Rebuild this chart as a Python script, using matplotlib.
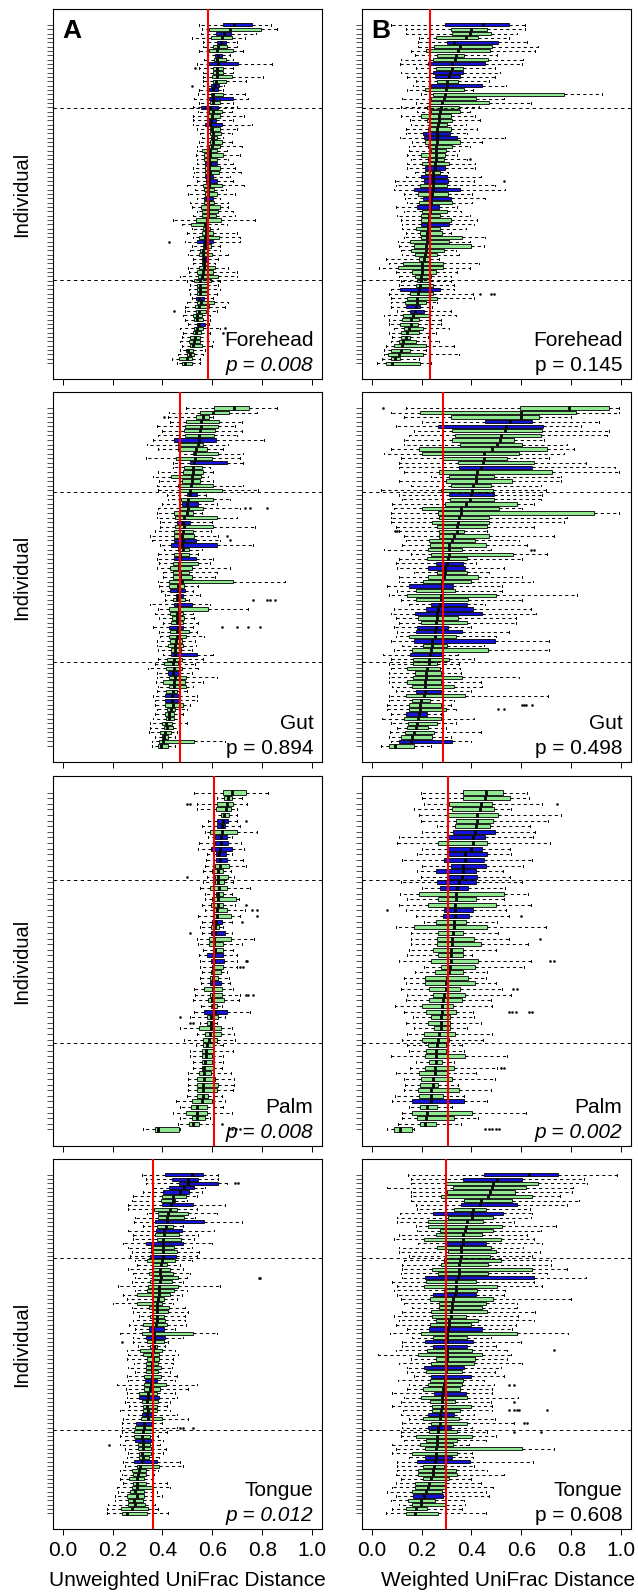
import matplotlib
matplotlib.use("Agg")
import matplotlib.pyplot as plt
import numpy as np

plt.rcParams['font.family'] = ['Liberation Sans', 'DejaVu Sans']

# ---------------- data (distances x 100), rows listed top -> bottom ----------------
sites = ["Forehead", "Gut", "Palm", "Tongue"]
metrics = ["Unweighted UniFrac Distance", "Weighted UniFrac Distance"]
panel_letters = ["A", "B"]
p_text = [["p = 0.008", "p = 0.894", "p = 0.008", "p = 0.012"],
          ["p = 0.145", "p = 0.498", "p = 0.002", "p = 0.608"]]
p_italic = [[True, False, True, True], [False, False, True, False]]
overall_median = [[0.583, 0.470, 0.606, 0.363], [0.233, 0.287, 0.306, 0.298]]
group_breaks = [[20.25, 59.75], [19.5, 56.5], [16.4, 45.5], [20.5, 60.5]]
x_ticks = [0.0, 0.2, 0.4, 0.6, 0.8, 1.0]
x_tick_labels = ["0.0", "0.2", "0.4", "0.6", "0.8", "1.0"]

# ---- Forehead, unweighted ----
fore_unw_q1 = [64.1, 58.7, 61.4, 59.3, 61.7, 60.3, 58.7, 61.1, 60.6, 58.7,
               60.1, 60.1, 59.7, 60.3, 59.3, 58.7, 59.4, 58.7, 59.0, 55.4,
               58.7, 57.9, 57.7, 57.0, 59.0, 59.0, 59.3, 59.0, 58.7, 55.9,
               56.5, 56.5, 57.0, 57.0, 57.0, 57.0, 57.4, 56.1, 56.7, 56.9,
               56.6, 56.6, 55.4, 55.7, 55.7, 53.4, 51.4, 56.3, 55.7, 54.6,
               53.7, 56.1, 55.0, 54.6, 55.9, 55.7, 54.6, 53.9, 54.3, 52.7,
               53.7, 53.7, 53.9, 53.4, 53.7, 53.0, 53.4, 52.3, 52.6, 53.7,
               52.7, 52.1, 51.0, 50.7, 51.0, 49.4, 49.7, 46.6, 48.0]
fore_unw_med = [68.8, 67.0, 64.6, 63.7, 63.3, 62.3, 61.7, 62.3, 61.7, 62.3,
                61.9, 61.7, 61.7, 61.4, 61.0, 60.3, 60.3, 60.1, 60.3, 59.0,
                60.3, 59.7, 59.3, 59.0, 59.9, 60.3, 60.3, 60.1, 59.7, 59.0,
                59.0, 58.7, 59.0, 58.7, 59.0, 58.7, 58.7, 58.7, 58.3, 58.3,
                57.7, 58.3, 58.3, 58.3, 58.3, 57.9, 57.0, 57.4, 57.4, 57.0,
                57.0, 57.0, 56.3, 56.3, 56.6, 56.6, 56.6, 56.1, 55.7, 55.0,
                55.0, 55.0, 55.0, 54.7, 55.3, 54.7, 54.7, 53.9, 53.9, 54.6,
                53.9, 53.4, 53.0, 52.7, 52.3, 50.3, 51.0, 49.7, 49.0]
fore_unw_q3 = [76.0, 79.4, 67.3, 67.7, 65.4, 65.7, 68.4, 63.7, 65.4, 70.4,
               64.1, 64.1, 68.0, 65.3, 62.6, 62.3, 64.4, 68.4, 63.0, 62.3,
               63.7, 63.0, 61.6, 63.7, 63.0, 63.3, 61.7, 63.7, 63.0, 61.9,
               64.4, 61.7, 61.7, 63.0, 62.7, 60.3, 61.9, 63.9, 60.8, 61.9,
               60.3, 60.8, 62.9, 62.3, 61.4, 63.3, 58.3, 59.0, 60.3, 62.7,
               60.3, 59.3, 57.7, 59.7, 58.3, 58.0, 60.9, 60.3, 62.3, 59.4,
               57.7, 57.7, 57.7, 56.6, 60.7, 58.7, 57.4, 55.9, 56.1, 56.9,
               56.1, 55.3, 55.0, 55.0, 55.7, 52.3, 52.7, 51.7, 51.7]
fore_unw_lo = [54.6, 55.7, 55.4, 51.9, 56.3, 56.3, 54.6, 57.7, 56.6, 53.7,
               54.6, 56.3, 56.3, 56.3, 56.1, 54.6, 54.3, 52.7, 54.6, 52.3,
               54.1, 52.1, 52.3, 52.1, 53.7, 55.0, 55.7, 54.7, 53.7, 53.7,
               53.4, 53.7, 53.7, 52.3, 52.6, 52.1, 53.7, 49.7, 53.0, 50.3,
               53.7, 51.0, 51.7, 53.7, 52.3, 44.3, 47.7, 51.7, 49.7, 52.1,
               49.0, 51.7, 51.0, 50.3, 52.3, 52.3, 50.1, 50.7, 47.0, 49.7,
               51.0, 50.7, 51.0, 51.7, 49.7, 49.0, 49.0, 48.3, 49.0, 50.3,
               47.0, 48.1, 47.7, 47.0, 47.7, 47.0, 46.3, 43.7, 45.7]
fore_unw_hi = [83.4, 85.7, 77.3, 73.0, 69.7, 69.7, 72.4, 67.0, 68.4, 83.7,
               68.4, 68.4, 80.4, 73.3, 64.6, 64.4, 73.0, 74.4, 68.4, 69.7,
               67.7, 72.6, 68.4, 76.0, 69.7, 67.7, 64.4, 67.7, 71.7, 65.7,
               71.0, 66.4, 68.4, 69.0, 71.3, 67.0, 68.4, 72.6, 65.3, 69.0,
               63.0, 66.4, 66.4, 68.4, 69.0, 77.0, 65.7, 62.3, 70.0, 71.0,
               71.0, 63.0, 63.0, 66.4, 62.3, 61.0, 66.4, 70.0, 70.0, 63.0,
               62.3, 63.0, 61.7, 60.3, 66.4, 65.0, 61.7, 59.0, 59.0, 58.6,
               63.0, 59.0, 58.3, 60.3, 59.7, 57.0, 56.1, 55.0, 55.0]
fore_unw_blue = [0, 2, 4, 7, 9, 14, 15, 17, 19, 22, 23, 32, 35, 36, 40, 50, 54, 63, 69]
fore_unw_out_rows = [10, 14, 50, 66, 70, 71]
fore_unw_out_vals = [53.2, 51.7, 42.6, 44.6, 65.0, 64.1]

# ---- Forehead, weighted ----
fore_wt_q1 = [29.4, 31.9, 32.0, 25.9, 30.0, 24.9, 21.6, 26.3, 24.5, 22.5,
              25.9, 24.5, 25.2, 26.3, 23.6, 21.2, 24.5, 23.6, 22.9, 22.3,
              23.6, 19.9, 22.0, 23.2, 22.5, 20.5, 20.9, 21.2, 22.5, 23.6,
              19.6, 22.5, 20.3, 21.3, 21.3, 19.6, 20.9, 19.2, 16.9, 18.5,
              20.5, 18.9, 18.3, 20.3, 19.9, 19.9, 19.6, 17.6, 19.2, 19.6,
              15.3, 16.9, 15.6, 17.2, 18.9, 12.5, 10.5, 16.3, 17.2, 18.0,
              17.6, 11.3, 15.2, 14.3, 13.2, 13.6, 15.2, 12.5, 12.3, 11.3,
              12.9, 11.6, 11.9, 10.9, 8.9, 7.6, 6.7, 7.6, 5.9]
fore_wt_med = [44.6, 40.0, 39.4, 37.9, 33.0, 35.4, 34.6, 33.9, 33.4, 32.3,
               32.3, 31.4, 31.0, 30.0, 30.0, 29.6, 29.4, 29.0, 28.3, 27.9,
               27.4, 27.1, 27.0, 26.7, 26.3, 26.3, 26.3, 26.0, 25.9, 25.6,
               25.6, 25.6, 25.4, 25.4, 24.7, 24.7, 24.7, 24.6, 24.6, 24.3,
               23.9, 23.6, 23.4, 23.2, 22.9, 22.9, 22.5, 22.5, 22.3, 22.0,
               22.0, 21.9, 21.6, 21.3, 20.9, 20.3, 20.0, 20.0, 19.9, 19.6,
               19.3, 18.9, 18.5, 18.3, 18.0, 17.6, 17.2, 16.7, 15.9, 15.6,
               14.9, 14.3, 13.6, 12.7, 12.3, 11.6, 10.9, 9.2, 8.3]
fore_wt_q3 = [55.0, 46.3, 47.8, 42.7, 50.6, 48.4, 47.4, 36.8, 46.7, 45.5,
              36.6, 36.7, 35.4, 34.6, 44.3, 37.0, 77.0, 42.0, 47.0, 35.0,
              35.4, 31.6, 32.3, 30.3, 31.6, 31.4, 34.0, 35.2, 32.3, 29.6,
              29.2, 29.0, 31.0, 29.4, 27.2, 30.3, 30.6, 30.3, 35.4, 30.6,
              31.9, 32.3, 27.0, 30.3, 27.4, 31.9, 31.1, 27.4, 28.0, 36.3,
              31.1, 40.0, 29.0, 26.3, 23.2, 28.6, 28.7, 25.6, 23.6, 23.3,
              24.7, 27.4, 24.7, 26.0, 21.7, 19.3, 21.1, 23.1, 19.1, 18.7,
              20.7, 18.9, 15.3, 17.7, 21.6, 15.2, 20.7, 11.3, 19.3]
fore_wt_lo = [7.6, 13.6, 13.9, 18.9, 18.5, 18.5, 15.9, 17.2, 11.9, 11.2,
              17.6, 11.9, 14.3, 17.6, 16.7, 14.3, 19.6, 12.3, 17.6, 11.6,
              18.3, 11.9, 15.2, 15.6, 13.9, 13.6, 11.2, 16.3, 14.9, 14.9,
              14.3, 15.6, 14.3, 14.3, 17.2, 13.9, 9.2, 9.9, 8.9, 12.9,
              13.2, 14.3, 9.6, 12.9, 10.3, 11.9, 12.3, 12.3, 13.6, 12.9,
              10.5, 10.9, 11.6, 12.3, 5.6, 6.9, 2.9, 9.6, 10.9, 11.6,
              10.9, 7.6, 6.9, 7.6, 7.6, 7.6, 10.3, 4.9, 6.9, 6.9,
              8.9, 6.9, 8.3, 7.6, 5.6, 4.9, 4.9, 4.3, 2.3]
fore_wt_hi = [61.4, 61.4, 58.3, 55.0, 62.3, 66.8, 65.6, 50.3, 60.6, 60.3,
              49.6, 51.6, 49.6, 47.0, 53.9, 40.7, 92.3, 53.0, 63.9, 43.0,
              39.6, 41.6, 43.6, 37.6, 42.3, 38.3, 53.6, 44.3, 39.6, 35.0,
              34.3, 38.3, 41.6, 41.6, 30.6, 43.9, 41.0, 49.6, 53.6, 40.3,
              45.6, 40.3, 34.3, 35.6, 39.6, 42.3, 41.0, 37.6, 31.6, 45.6,
              39.6, 45.0, 33.6, 35.0, 27.0, 43.0, 39.6, 34.3, 31.6, 31.6,
              33.0, 33.0, 40.6, 41.2, 26.3, 24.3, 31.6, 33.6, 27.6, 27.6,
              31.0, 25.6, 22.5, 26.9, 33.0, 21.6, 35.0, 18.9, 23.6]
fore_wt_blue = [0, 4, 9, 11, 12, 14, 25, 26, 33, 35, 36, 38, 40, 42, 46, 61, 65, 66]
fore_wt_out_rows = [31, 36, 62, 62, 62]
fore_wt_out_vals = [39.4, 53.2, 43.6, 47.7, 48.9]

# ---- Gut, unweighted ----
gut_unw_q1 = [60.6, 55.0, 53.4, 49.4, 49.1, 48.7, 49.0, 44.7, 46.1, 46.3,
              52.1, 45.5, 51.0, 48.6, 48.3, 43.3, 47.9, 46.3, 47.0, 49.7,
              47.3, 47.9, 46.7, 44.6, 45.0, 45.9, 45.0, 44.6, 44.6, 44.6,
              43.3, 46.3, 44.7, 44.7, 44.1, 43.0, 44.3, 44.3, 42.7, 42.7,
              43.0, 45.4, 44.3, 44.6, 42.7, 43.0, 43.7, 43.3, 42.7, 43.0,
              42.7, 43.0, 42.3, 43.4, 43.4, 41.7, 40.7, 41.3, 42.3, 42.7,
              40.1, 42.6, 41.4, 41.1, 41.1, 41.0, 41.7, 41.0, 41.4, 39.7,
              40.7, 39.0, 39.7, 38.7, 38.3]
gut_unw_med = [68.8, 60.3, 56.3, 55.4, 55.3, 55.0, 54.7, 54.6, 54.1, 53.3,
               53.0, 53.0, 52.6, 52.3, 52.1, 51.9, 51.7, 51.4, 51.0, 51.0,
               50.3, 49.7, 50.3, 49.7, 48.6, 48.1, 48.7, 48.3, 47.9, 48.1,
               47.7, 48.1, 47.0, 47.0, 46.7, 46.7, 47.0, 47.0, 47.7, 46.3,
               46.3, 46.3, 45.9, 46.3, 46.7, 45.9, 45.9, 45.9, 46.3, 45.7,
               45.7, 45.4, 45.0, 45.0, 45.0, 44.6, 44.1, 44.6, 44.3, 45.0,
               44.6, 44.6, 44.1, 43.7, 43.7, 44.1, 43.3, 42.7, 42.7, 41.4,
               41.7, 41.0, 40.6, 40.3, 39.3]
gut_unw_q3 = [74.8, 66.8, 58.7, 62.7, 62.1, 61.1, 60.7, 61.3, 56.1, 57.7,
              62.3, 59.7, 65.7, 55.7, 56.1, 55.3, 55.0, 60.1, 64.0, 53.9,
              60.1, 54.3, 56.3, 52.1, 61.7, 51.0, 60.1, 52.1, 52.6, 53.4,
              61.7, 50.6, 50.6, 53.4, 54.3, 51.9, 50.7, 51.7, 68.1, 48.7,
              48.9, 48.1, 49.0, 51.7, 58.3, 48.1, 48.6, 48.3, 48.3, 50.7,
              49.4, 47.7, 48.3, 47.4, 53.7, 47.9, 46.3, 47.9, 47.0, 49.4,
              49.0, 49.3, 45.9, 46.7, 46.7, 48.1, 45.0, 44.7, 44.6, 43.7,
              44.1, 43.4, 42.3, 52.6, 42.1]
gut_unw_lo = [49.3, 42.7, 42.3, 43.0, 37.6, 39.7, 38.3, 36.3, 33.9, 38.3,
              47.0, 33.4, 44.3, 44.3, 38.3, 36.3, 38.7, 37.9, 38.3, 41.7,
              42.3, 39.7, 38.3, 37.6, 37.6, 39.0, 39.0, 36.9, 35.0, 35.6,
              39.0, 40.7, 38.3, 37.6, 38.7, 37.6, 40.3, 40.3, 38.3, 38.7,
              39.2, 41.0, 41.0, 35.0, 38.3, 36.9, 38.7, 40.3, 36.3, 38.7,
              39.0, 37.9, 37.6, 38.3, 40.1, 38.3, 36.9, 34.3, 37.9, 37.6,
              37.4, 38.3, 37.6, 36.3, 37.0, 37.0, 37.6, 37.0, 36.3, 35.0,
              35.0, 34.7, 37.0, 35.6, 35.6]
gut_unw_hi = [85.7, 77.7, 60.3, 71.7, 69.0, 72.0, 70.0, 80.8, 66.4, 64.1,
              72.1, 71.0, 72.4, 59.0, 60.3, 58.3, 60.1, 72.4, 78.4, 57.3,
              67.0, 61.7, 71.0, 55.7, 69.7, 59.7, 77.0, 59.3, 62.3, 63.0,
              76.4, 55.7, 54.3, 60.3, 59.0, 67.0, 61.7, 61.0, 89.1, 54.3,
              52.3, 55.0, 50.7, 59.0, 74.4, 52.3, 52.6, 54.3, 52.3, 53.7,
              56.6, 53.0, 53.4, 51.7, 60.3, 56.3, 53.0, 54.3, 51.7, 61.7,
              56.3, 52.3, 49.7, 53.7, 53.7, 51.0, 49.7, 48.3, 47.0, 49.7,
              47.0, 45.7, 45.0, 65.0, 45.0]
gut_unw_blue = [7, 12, 19, 21, 25, 29, 30, 33, 40, 41, 43, 48, 54, 58, 63, 64]
gut_unw_out_rows = [2, 22, 22, 22, 28, 29, 42, 42, 42, 42, 48, 48, 48, 48]
gut_unw_out_vals = [40.8, 73.0, 75.0, 82.0, 65.7, 67.0, 76.4, 81.7, 83.0, 85.0,
                    63.7, 69.7, 74.4, 79.0]

# ---- Gut, weighted ----
gut_wt_q1 = [59.4, 19.4, 31.6, 45.3, 26.6, 32.0, 33.4, 32.3, 35.4, 19.0,
             20.0, 28.0, 34.7, 35.0, 27.0, 31.0, 29.9, 31.6, 27.6, 31.0,
             31.2, 29.2, 20.0, 26.6, 27.0, 24.3, 26.3, 27.0, 27.0, 23.0,
             23.4, 22.6, 23.6, 22.0, 25.6, 22.6, 26.0, 22.7, 20.6, 15.0,
             17.6, 14.3, 17.8, 23.9, 21.8, 17.4, 18.6, 19.8, 18.2, 17.8,
             15.0, 16.8, 20.7, 16.2, 15.4, 16.6, 16.6, 14.2, 17.2, 16.7,
             14.2, 16.0, 17.8, 13.8, 16.0, 15.0, 14.8, 13.8, 13.0, 14.6,
             14.3, 13.5, 11.9, 11.1, 7.1]
gut_wt_med = [79.0, 59.7, 59.7, 55.4, 53.9, 53.3, 51.9, 51.3, 50.3, 48.3,
              45.0, 45.0, 44.6, 43.9, 42.3, 41.9, 41.7, 40.6, 40.3, 39.7,
              39.4, 37.9, 35.9, 35.9, 35.0, 34.7, 34.3, 34.0, 33.0, 32.3,
              31.0, 31.0, 31.0, 30.7, 30.0, 29.4, 29.4, 29.0, 28.0, 28.3,
              28.0, 27.9, 27.6, 27.2, 26.7, 26.3, 26.3, 25.9, 25.6, 25.4,
              25.2, 24.2, 24.0, 23.6, 23.4, 23.1, 22.9, 22.3, 21.6, 21.6,
              21.4, 21.2, 21.2, 21.0, 19.9, 19.4, 19.4, 19.0, 18.7, 18.3,
              17.9, 17.0, 16.3, 15.6, 9.2]
gut_wt_q3 = [95.1, 81.7, 67.0, 64.4, 68.8, 68.1, 67.7, 57.0, 60.3, 70.4,
             59.0, 54.3, 65.0, 64.4, 72.4, 49.0, 56.1, 47.9, 48.6, 49.0,
             49.0, 58.3, 51.0, 89.1, 47.0, 47.0, 46.3, 37.0, 47.0, 41.3,
             45.7, 36.3, 56.7, 38.0, 36.7, 37.3, 38.3, 42.7, 39.7, 32.7,
             33.3, 49.9, 38.7, 38.0, 40.7, 44.3, 34.6, 38.0, 30.7, 36.3,
             33.9, 49.3, 30.3, 46.7, 28.3, 31.0, 26.3, 27.4, 27.6, 36.3,
             27.6, 33.0, 27.6, 37.3, 23.5, 27.9, 29.6, 22.0, 27.9, 26.0,
             22.6, 25.0, 24.3, 32.3, 17.0]
gut_wt_lo = [13.6, 7.6, 13.0, 20.3, 9.6, 17.0, 15.0, 13.0, 13.0, 7.6,
             4.9, 11.6, 11.0, 11.0, 13.0, 23.6, 11.0, 15.6, 3.6, 11.0,
             12.3, 8.3, 8.9, 7.6, 7.6, 7.6, 9.6, 11.0, 13.0, 13.6,
             12.3, 4.9, 15.6, 11.0, 9.6, 10.3, 17.0, 11.0, 11.0, 6.3,
             10.3, 6.9, 11.6, 15.0, 8.9, 7.6, 9.6, 11.0, 8.9, 10.3,
             9.6, 7.6, 12.3, 8.9, 4.7, 7.6, 6.9, 7.6, 6.9, 6.9,
             6.9, 8.3, 9.6, 6.9, 6.9, 6.3, 6.3, 7.6, 4.3, 7.6,
             10.3, 7.3, 6.9, 7.6, 3.6]
gut_wt_hi = [99.0, 99.0, 79.7, 91.1, 83.7, 95.1, 94.4, 69.0, 78.4, 81.0,
             77.0, 71.0, 85.7, 97.7, 99.0, 75.7, 75.7, 67.7, 69.7, 68.4,
             67.7, 65.0, 60.3, 99.0, 78.4, 77.0, 65.0, 46.3, 73.0, 59.0,
             62.3, 47.7, 70.4, 60.3, 41.7, 53.0, 47.0, 60.3, 64.7, 52.3,
             52.3, 82.4, 60.3, 45.3, 63.7, 65.7, 57.7, 57.7, 39.7, 55.0,
             49.7, 71.0, 45.0, 71.0, 34.6, 41.0, 35.0, 35.4, 35.6, 59.0,
             43.7, 44.3, 39.7, 70.8, 33.0, 31.6, 33.6, 27.6, 41.2, 33.6,
             29.6, 43.7, 31.6, 39.7, 23.6]
gut_wt_blue = [3, 4, 13, 19, 34, 35, 39, 43, 44, 45, 48, 49, 51, 54, 62, 67, 73]
gut_wt_out_rows = [0, 27, 27, 31, 31, 65, 65, 65, 65, 66, 66]
gut_wt_out_vals = [4.7, 9.3, 10.0, 63.7, 65.0, 60.3, 61.0, 61.7, 64.4, 50.7, 53.0]

# ---- Palm, unweighted ----
palm_unw_q1 = [64.1, 64.8, 61.9, 61.3, 63.3, 61.9, 61.9, 59.0, 61.0, 61.0,
               59.4, 61.4, 61.4, 61.0, 59.9, 61.0, 61.1, 59.0, 61.3, 59.7,
               59.3, 60.1, 60.3, 59.9, 59.3, 59.5, 58.7, 58.7, 60.1, 58.0,
               59.5, 59.7, 59.4, 59.0, 59.0, 56.8, 59.0, 58.3, 59.3, 56.8,
               57.7, 58.0, 54.6, 57.0, 56.1, 56.3, 55.7, 55.9, 55.7, 55.9,
               54.6, 53.9, 53.7, 53.7, 53.9, 51.9, 51.4, 49.4, 51.7, 50.7,
               37.0]
palm_unw_med = [68.0, 66.1, 65.7, 65.3, 64.8, 64.1, 63.7, 63.9, 63.4, 63.4,
                63.0, 62.7, 63.0, 63.0, 62.3, 62.3, 62.3, 62.6, 62.3, 62.3,
                62.1, 61.7, 61.9, 61.4, 61.0, 61.0, 60.6, 60.6, 61.0, 60.6,
                60.6, 60.3, 60.3, 60.1, 60.1, 60.1, 60.1, 59.7, 60.1, 61.0,
                59.4, 59.4, 59.3, 59.0, 58.6, 57.7, 57.4, 57.3, 57.0, 56.8,
                56.8, 56.6, 56.3, 56.3, 56.1, 55.7, 53.7, 53.7, 53.7, 52.3,
                38.3]
palm_unw_q3 = [73.3, 68.0, 68.4, 67.4, 66.8, 66.4, 65.1, 69.7, 65.7, 66.3,
               67.8, 65.6, 65.7, 66.6, 64.4, 66.1, 64.6, 66.0, 64.4, 69.3,
               64.4, 65.7, 67.3, 63.8, 62.8, 65.0, 67.4, 64.4, 64.1, 64.1,
               64.6, 64.4, 63.4, 62.3, 63.4, 63.7, 63.9, 64.8, 62.0, 66.0,
               62.1, 60.7, 63.4, 63.4, 61.7, 60.3, 60.3, 59.7, 59.7, 60.1,
               59.3, 61.0, 62.1, 61.7, 58.1, 59.7, 57.7, 57.9, 57.0, 54.6,
               46.6]
palm_unw_lo = [52.6, 61.7, 54.0, 53.7, 60.3, 58.3, 55.7, 57.0, 58.3, 54.7,
               54.1, 57.7, 57.4, 57.0, 56.3, 57.7, 56.3, 55.0, 57.0, 57.0,
               55.7, 57.0, 54.3, 55.7, 55.0, 55.7, 53.7, 54.3, 56.3, 54.6,
               55.0, 55.0, 55.7, 55.0, 55.3, 52.6, 53.0, 52.3, 55.3, 52.6,
               51.0, 55.0, 47.0, 53.7, 48.6, 53.3, 51.0, 51.0, 52.3, 52.3,
               50.1, 50.1, 50.1, 50.1, 49.7, 45.3, 47.0, 44.1, 47.0, 46.3,
               32.3]
palm_unw_hi = [82.4, 71.7, 74.0, 69.7, 70.0, 69.7, 71.0, 77.7, 67.7, 71.4,
               72.6, 67.7, 72.4, 73.3, 67.3, 68.6, 68.4, 75.0, 67.7, 70.8,
               69.0, 73.0, 71.0, 67.7, 64.1, 67.7, 76.8, 71.7, 68.4, 70.0,
               69.7, 70.0, 65.7, 66.6, 67.0, 68.4, 71.0, 70.8, 63.7, 75.0,
               65.0, 61.7, 67.7, 68.6, 69.0, 64.4, 68.4, 64.4, 64.4, 63.7,
               67.4, 68.8, 68.8, 68.4, 63.7, 65.0, 64.4, 67.7, 59.0, 60.3,
               47.0]
palm_unw_blue = [5, 6, 8, 9, 10, 11, 12, 23, 25, 29, 30, 34, 39]
palm_unw_out_rows = [2, 2, 5, 15, 20, 21, 21, 22, 23, 25, 30, 30, 31, 31, 36, 36, 36,
                     40, 41, 41, 59, 60, 60, 60, 60]
palm_unw_out_vals = [49.7, 51.0, 73.3, 49.7, 73.3, 75.7, 77.7, 77.7, 71.7, 51.0, 73.3,
                     74.0, 71.0, 72.4, 73.3, 74.4, 76.4, 47.0, 51.0, 52.3, 64.0, 66.5,
                     68.0, 69.5, 71.0]

# ---- Palm, weighted ----
palm_wt_q1 = [36.7, 36.7, 31.0, 32.0, 30.3, 33.6, 33.4, 32.7, 30.6, 26.6,
              30.0, 30.3, 29.0, 31.9, 25.9, 30.7, 26.3, 27.2, 19.0, 26.7,
              22.6, 29.0, 28.6, 25.9, 17.1, 26.6, 26.3, 26.3, 24.7, 26.7,
              23.9, 27.9, 25.4, 21.2, 21.4, 23.0, 24.6, 23.0, 20.3, 21.6,
              23.9, 22.6, 25.0, 21.0, 20.3, 22.6, 21.9, 21.4, 23.0, 21.4,
              19.1, 19.8, 19.2, 18.6, 19.0, 16.0, 19.4, 16.3, 18.3, 19.4,
              8.9]
palm_wt_med = [45.9, 45.4, 43.7, 43.3, 42.3, 42.1, 41.7, 41.4, 40.7, 40.7,
               39.9, 37.3, 37.3, 36.6, 36.6, 36.3, 35.0, 34.1, 33.9, 33.6,
               33.4, 33.2, 33.2, 32.9, 32.9, 32.6, 32.3, 32.3, 31.6, 31.6,
               31.6, 31.2, 31.0, 30.0, 29.9, 29.6, 29.0, 28.7, 28.3, 28.0,
               27.6, 27.6, 27.6, 27.0, 26.6, 26.3, 25.9, 25.9, 25.6, 25.4,
               25.4, 24.7, 24.6, 23.9, 23.9, 23.9, 22.0, 22.0, 21.6, 21.2,
               11.2]
palm_wt_q3 = [52.7, 55.4, 48.1, 49.0, 50.6, 48.6, 47.4, 49.4, 45.4, 46.3,
              44.3, 46.1, 45.0, 45.7, 41.9, 42.3, 41.9, 38.7, 53.0, 41.7,
              49.7, 40.7, 39.0, 37.9, 46.3, 36.7, 41.0, 43.9, 36.6, 36.6,
              42.6, 41.4, 36.7, 38.4, 41.3, 35.2, 37.4, 36.3, 32.6, 33.9,
              31.4, 31.4, 31.4, 33.4, 31.0, 29.6, 29.6, 37.3, 28.3, 33.0,
              30.3, 32.3, 26.7, 35.1, 28.4, 37.1, 26.3, 40.3, 32.9, 25.9,
              16.0]
palm_wt_lo = [19.6, 20.3, 21.0, 17.0, 19.0, 19.6, 26.3, 20.3, 10.9, 10.3,
              20.3, 18.3, 12.0, 20.3, 18.3, 19.6, 11.6, 20.3, 11.3, 14.3,
              10.9, 13.6, 17.6, 21.0, 9.6, 15.6, 15.6, 15.6, 15.0, 14.3,
              10.9, 21.0, 17.2, 12.9, 13.6, 11.6, 14.3, 13.6, 9.3, 12.9,
              16.7, 13.6, 16.9, 14.3, 12.3, 14.3, 15.0, 7.6, 17.6, 15.4,
              9.6, 12.9, 13.2, 12.9, 9.3, 8.3, 15.0, 12.0, 12.0, 10.6,
              6.3]
palm_wt_hi = [62.1, 63.0, 68.4, 55.9, 76.0, 70.6, 63.3, 65.4, 64.6, 71.3,
              55.4, 55.7, 64.4, 60.7, 52.6, 55.4, 60.3, 53.4, 62.8, 53.0,
              63.7, 53.9, 55.0, 50.3, 69.7, 50.6, 55.0, 62.6, 49.7, 40.3,
              63.7, 61.0, 46.3, 45.7, 49.9, 52.3, 55.7, 47.7, 48.3, 40.7,
              41.0, 43.7, 38.0, 48.3, 44.7, 36.3, 37.0, 54.3, 33.0, 50.3,
              41.9, 49.3, 34.6, 47.7, 37.0, 46.3, 32.3, 61.7, 42.7, 35.9,
              17.0]
palm_wt_blue = [7, 8, 10, 11, 12, 13, 14, 15, 16, 17, 21, 22, 55]
palm_wt_out_rows = [2, 21, 22, 26, 30, 30, 35, 35, 39, 39, 39, 39, 39, 49, 49,
                    60, 60, 60, 60, 60]
palm_wt_out_vals = [74.4, 6.3, 59.7, 67.4, 71.3, 73.0, 56.7, 58.3, 55.0, 56.3, 57.7,
                    63.0, 64.4, 52.0, 53.0, 45.3, 47.0, 48.3, 49.7, 51.0]

# ---- Tongue, unweighted ----
tong_unw_q1 = [41.0, 43.9, 46.7, 42.7, 40.3, 39.9, 39.3, 39.9, 36.7, 38.3,
               38.3, 37.0, 37.9, 37.4, 37.0, 37.9, 33.4, 35.2, 35.2, 35.0,
               33.9, 36.3, 35.6, 34.7, 36.3, 35.0, 34.3, 33.6, 29.9, 36.3,
               29.9, 34.7, 35.9, 35.0, 35.6, 32.0, 34.7, 31.6, 33.4, 33.6,
               35.0, 31.0, 32.3, 33.6, 33.4, 33.4, 33.4, 32.6, 33.0, 32.6,
               32.4, 30.6, 30.6, 31.6, 32.0, 32.0, 31.9, 31.2, 29.4, 29.0,
               28.7, 28.7, 29.1, 30.0, 30.3, 30.7, 30.4, 28.4, 29.6, 27.9,
               28.3, 26.7, 28.3, 27.9, 27.0, 25.6, 26.0, 26.3, 23.2, 23.6]
tong_unw_med = [51.7, 50.1, 50.1, 48.6, 47.0, 44.1, 44.1, 43.4, 43.0, 42.3,
                41.9, 41.9, 41.3, 40.6, 40.6, 40.3, 40.3, 40.1, 40.1, 40.1,
                39.7, 39.2, 39.0, 39.0, 39.2, 39.0, 38.7, 38.7, 38.6, 38.3,
                37.9, 37.9, 37.9, 37.6, 37.6, 37.4, 36.3, 36.6, 36.7, 36.7,
                36.7, 36.0, 35.6, 36.3, 35.6, 35.6, 35.6, 35.6, 35.6, 35.4,
                35.0, 34.3, 34.3, 33.9, 33.9, 34.0, 33.6, 34.0, 32.6, 32.6,
                32.3, 31.6, 32.3, 32.3, 32.3, 31.6, 32.0, 31.6, 31.0, 30.7,
                30.3, 29.6, 29.9, 29.6, 29.0, 29.6, 28.7, 29.0, 27.6, 25.6]
tong_unw_q3 = [56.3, 54.3, 62.3, 52.6, 50.6, 49.3, 45.0, 52.1, 45.9, 50.3,
               48.6, 56.7, 44.3, 47.7, 46.7, 47.4, 48.1, 44.7, 45.9, 45.4,
               45.0, 41.7, 43.0, 44.3, 46.3, 43.7, 46.3, 44.7, 42.9, 40.7,
               39.9, 42.7, 42.3, 40.7, 41.0, 41.7, 40.7, 52.1, 41.0, 40.6,
               37.6, 39.9, 38.7, 38.7, 38.3, 39.2, 38.3, 39.2, 37.9, 41.4,
               39.0, 37.6, 38.7, 38.3, 37.6, 37.6, 36.0, 40.0, 36.3, 36.0,
               35.6, 35.0, 35.4, 35.0, 35.4, 35.2, 34.7, 37.6, 38.7, 33.4,
               33.4, 32.6, 33.4, 36.0, 32.7, 32.6, 32.3, 33.0, 34.3, 33.9]
tong_unw_lo = [31.6, 33.4, 33.4, 35.6, 32.3, 28.3, 27.6, 26.3, 26.3, 33.9,
               29.0, 28.7, 32.3, 26.3, 28.3, 28.3, 24.3, 26.3, 27.6, 27.0,
               29.0, 29.6, 26.3, 28.3, 29.0, 27.6, 22.3, 29.0, 24.3, 25.6,
               20.3, 27.6, 28.3, 30.7, 28.3, 26.7, 29.0, 23.0, 28.3, 28.0,
               30.3, 25.6, 26.3, 25.9, 28.6, 26.3, 29.0, 25.9, 26.3, 21.9,
               25.4, 25.6, 25.6, 24.9, 26.7, 23.0, 26.3, 24.0, 23.6, 23.6,
               23.6, 23.0, 24.9, 23.0, 25.0, 26.3, 25.6, 24.3, 25.0, 23.0,
               23.6, 23.0, 24.3, 21.6, 22.3, 21.0, 21.0, 18.3, 17.6, 17.6]
tong_unw_hi = [62.1, 62.1, 66.0, 57.0, 55.7, 53.7, 49.7, 65.0, 53.7, 61.7,
               53.0, 72.0, 48.3, 60.7, 54.3, 52.6, 59.7, 51.7, 54.7, 53.7,
               51.7, 47.0, 48.3, 51.0, 49.7, 48.3, 63.0, 49.7, 47.7, 45.7,
               44.3, 49.0, 50.3, 49.0, 49.0, 49.3, 45.0, 61.7, 48.3, 42.3,
               41.0, 45.0, 46.3, 44.3, 44.3, 43.7, 43.0, 45.7, 45.0, 53.7,
               50.3, 45.0, 45.9, 43.0, 41.9, 43.0, 45.7, 50.3, 39.7, 45.7,
               41.7, 38.3, 40.3, 39.0, 41.4, 40.3, 38.7, 47.0, 48.3, 38.3,
               36.6, 35.6, 41.7, 43.0, 37.6, 39.7, 35.6, 37.0, 38.3, 42.3]
tong_unw_blue = [0, 1, 2, 3, 4, 7, 11, 13, 16, 19, 36, 38, 48, 52, 56, 58, 62, 67]
tong_unw_out_rows = [2, 2, 24, 24, 59, 59, 59, 63, 39]
tong_unw_out_vals = [69.0, 70.4, 78.6, 79.2, 47.0, 48.3, 52.3, 18.4, 23.6]

# ---- Tongue, weighted ----
tong_wt_q1 = [45.0, 36.7, 29.9, 32.6, 30.0, 27.9, 37.0, 35.9, 33.0, 24.6,
              30.6, 22.6, 22.6, 27.4, 25.9, 21.0, 29.2, 26.3, 30.6, 29.9,
              29.0, 27.6, 24.0, 26.6, 21.2, 21.6, 21.0, 29.0, 24.7, 23.4,
              27.0, 27.0, 23.8, 24.3, 25.9, 23.4, 23.0, 19.6, 24.7, 21.4,
              24.7, 22.3, 18.4, 25.9, 23.9, 21.0, 21.9, 23.9, 23.4, 22.7,
              20.6, 25.1, 19.6, 23.4, 24.0, 24.3, 22.6, 20.7, 23.6, 22.6,
              23.0, 17.6, 21.9, 19.4, 21.2, 16.3, 21.4, 18.0, 20.7, 18.7,
              18.4, 20.4, 17.2, 17.4, 16.3, 16.6, 14.7, 16.0, 13.6, 13.6]
tong_wt_med = [63.0, 50.3, 48.7, 48.3, 47.4, 46.7, 43.9, 43.6, 40.6, 40.3,
               40.1, 38.3, 37.9, 37.2, 36.6, 36.6, 36.6, 35.9, 35.9, 35.9,
               35.4, 35.0, 35.0, 35.0, 34.6, 33.9, 33.9, 33.6, 33.2, 32.7,
               32.3, 32.3, 31.6, 31.6, 31.0, 31.0, 30.7, 30.3, 30.3, 30.3,
               30.0, 30.3, 30.3, 30.0, 29.6, 29.6, 29.6, 29.4, 29.2, 29.0,
               28.6, 28.6, 28.3, 28.0, 28.0, 27.6, 27.4, 27.4, 27.2, 26.7,
               26.6, 26.3, 26.3, 26.0, 25.9, 25.9, 25.6, 25.4, 25.0, 24.6,
               24.6, 23.6, 22.9, 22.6, 21.6, 20.9, 19.6, 19.6, 17.6, 17.2]
tong_wt_q3 = [74.8, 60.1, 66.8, 61.9, 57.4, 64.4, 56.3, 58.3, 45.7, 52.7,
              48.6, 44.6, 52.3, 48.6, 44.1, 51.7, 45.9, 47.7, 49.8, 47.4,
              51.7, 46.7, 64.4, 46.7, 65.0, 41.9, 50.3, 42.3, 41.7, 48.7,
              45.9, 44.1, 46.1, 37.8, 42.6, 39.7, 44.3, 58.3, 38.2, 40.7,
              38.1, 40.3, 44.3, 41.4, 41.0, 37.0, 36.3, 39.7, 36.7, 36.1,
              35.4, 37.6, 38.1, 33.4, 39.7, 35.4, 33.0, 35.0, 38.0, 31.6,
              34.0, 40.3, 34.0, 32.6, 60.1, 34.3, 32.3, 39.4, 29.0, 33.9,
              34.3, 31.0, 29.9, 29.8, 28.3, 28.7, 25.4, 29.6, 22.3, 26.7]
tong_wt_lo = [14.7, 15.9, 15.6, 6.0, 15.9, 15.9, 15.9, 17.6, 18.3, 11.2,
              10.3, 10.3, 17.6, 18.3, 10.9, 8.9, 18.6, 10.9, 10.9, 15.0,
              13.0, 12.3, 12.0, 11.6, 12.0, 8.3, 10.3, 8.9, 10.3, 11.6,
              13.0, 16.3, 12.3, 8.9, 10.9, 9.8, 14.0, 7.3, 16.0, 12.3,
              12.0, 9.9, 2.5, 15.6, 10.9, 14.3, 14.3, 16.9, 10.5, 15.0,
              14.0, 8.3, 13.0, 11.6, 8.3, 12.7, 11.6, 15.0, 12.3, 12.3,
              11.6, 11.6, 13.0, 8.3, 9.6, 8.3, 15.0, 10.3, 10.3, 10.3,
              9.6, 11.6, 9.6, 8.3, 6.3, 9.6, 7.6, 10.9, 8.3, 5.6]
tong_wt_hi = [98.4, 85.0, 86.4, 80.8, 80.1, 75.3, 83.0, 78.4, 63.4, 64.4,
              63.7, 57.0, 73.7, 67.7, 62.3, 65.0, 68.1, 60.7, 67.3, 64.4,
              71.7, 71.7, 78.4, 70.4, 86.0, 65.0, 68.4, 53.3, 53.0, 80.0,
              58.3, 58.3, 65.3, 58.7, 65.0, 57.9, 56.3, 78.8, 47.9, 59.7,
              50.0, 54.3, 55.7, 54.3, 60.3, 51.7, 49.3, 53.0, 45.0, 49.0,
              48.3, 48.3, 58.7, 47.7, 48.3, 48.3, 41.0, 49.3, 57.0, 40.3,
              46.3, 49.7, 45.7, 39.0, 73.0, 40.3, 40.6, 64.7, 41.0, 46.3,
              53.0, 39.7, 43.7, 48.7, 45.7, 47.0, 36.8, 37.2, 36.3, 45.9]
tong_wt_blue = [0, 1, 7, 9, 16, 24, 28, 36, 39, 40, 45, 47, 51, 56, 59, 66, 67, 75]
tong_wt_out_rows = [41, 49, 49, 53, 55, 55, 55, 55, 55, 58, 58, 60, 60]
tong_wt_out_vals = [73.0, 55.0, 57.0, 57.0, 55.0, 57.0, 58.3, 59.0, 70.4, 61.0, 62.3,
                    57.0, 67.7]

# panels[column][row]
panels = [
    [dict(q1=fore_unw_q1, med=fore_unw_med, q3=fore_unw_q3, lo=fore_unw_lo, hi=fore_unw_hi,
          blue=fore_unw_blue, orow=fore_unw_out_rows, oval=fore_unw_out_vals),
     dict(q1=gut_unw_q1, med=gut_unw_med, q3=gut_unw_q3, lo=gut_unw_lo, hi=gut_unw_hi,
          blue=gut_unw_blue, orow=gut_unw_out_rows, oval=gut_unw_out_vals),
     dict(q1=palm_unw_q1, med=palm_unw_med, q3=palm_unw_q3, lo=palm_unw_lo, hi=palm_unw_hi,
          blue=palm_unw_blue, orow=palm_unw_out_rows, oval=palm_unw_out_vals),
     dict(q1=tong_unw_q1, med=tong_unw_med, q3=tong_unw_q3, lo=tong_unw_lo, hi=tong_unw_hi,
          blue=tong_unw_blue, orow=tong_unw_out_rows, oval=tong_unw_out_vals)],
    [dict(q1=fore_wt_q1, med=fore_wt_med, q3=fore_wt_q3, lo=fore_wt_lo, hi=fore_wt_hi,
          blue=fore_wt_blue, orow=fore_wt_out_rows, oval=fore_wt_out_vals),
     dict(q1=gut_wt_q1, med=gut_wt_med, q3=gut_wt_q3, lo=gut_wt_lo, hi=gut_wt_hi,
          blue=gut_wt_blue, orow=gut_wt_out_rows, oval=gut_wt_out_vals),
     dict(q1=palm_wt_q1, med=palm_wt_med, q3=palm_wt_q3, lo=palm_wt_lo, hi=palm_wt_hi,
          blue=palm_wt_blue, orow=palm_wt_out_rows, oval=palm_wt_out_vals),
     dict(q1=tong_wt_q1, med=tong_wt_med, q3=tong_wt_q3, lo=tong_wt_lo, hi=tong_wt_hi,
          blue=tong_wt_blue, orow=tong_wt_out_rows, oval=tong_wt_out_vals)],
]

# ---------------- styling / layout ----------------
GREEN = '#90e890'
BLUE = '#1212d8'
W, H = 638, 1595
fig = plt.figure(figsize=(W / 100, H / 100), dpi=100)
col_left_px = [52.7, 361.7]
ax_w_px = 269.5
row_top_px = [9, 392, 776, 1159]
ax_h_px = 370
xlabel_shift_px = [0, 12]

for c in range(2):
    for r in range(4):
        d = panels[c][r]
        n = len(d['med'])
        for key in ('q1', 'q3', 'lo', 'hi'):
            assert len(d[key]) == n, (c, r, key, len(d[key]), n)
        left = col_left_px[c] / W
        bottom = 1 - (row_top_px[r] + ax_h_px) / H
        ax = fig.add_axes([left, bottom, ax_w_px / W, ax_h_px / H])

        stats = []
        for i in range(n):
            fl = [v / 100 for rr, v in zip(d['orow'], d['oval']) if rr == i]
            stats.append(dict(med=d['med'][i] / 100, q1=d['q1'][i] / 100, q3=d['q3'][i] / 100,
                              whislo=d['lo'][i] / 100, whishi=d['hi'][i] / 100,
                              fliers=np.array(fl)))
        positions = n - np.arange(n)
        kw = dict(positions=positions, widths=0.72, patch_artist=True, manage_ticks=False,
                  showfliers=True, capwidths=0.36,
                  boxprops=dict(edgecolor='black', linewidth=0.6),
                  medianprops=dict(color='black', linewidth=2.0, solid_capstyle='butt'),
                  whiskerprops=dict(color='black', linewidth=0.75, linestyle=(0, (3.0, 3.0))),
                  capprops=dict(color='black', linewidth=0.7),
                  flierprops=dict(marker='o', markersize=1.5, markerfacecolor='black',
                                  markeredgecolor='black', markeredgewidth=0.3,
                                  linestyle='none'))
        try:
            bp = ax.bxp(stats, orientation='horizontal', **kw)
        except TypeError:
            bp = ax.bxp(stats, vert=False, **kw)
        blue_set = set(d['blue'])
        for i, box in enumerate(bp['boxes']):
            box.set_facecolor(BLUE if i in blue_set else GREEN)

        # reference lines
        ax.axvline(overall_median[c][r], color='#ff0000', linewidth=1.5, zorder=6)
        for yb in group_breaks[r]:
            ax.axhline(yb, color='black', linewidth=0.7, linestyle=(0, (3.5, 3.5)), zorder=5)

        ax.set_xlim(-0.04, 1.04)
        ax.set_ylim(0.5 - 0.04 * n, n + 0.5 + 0.04 * n)
        ax.set_xticks(x_ticks)
        ax.set_yticks(positions)
        ax.set_yticklabels([])
        ax.tick_params(axis='y', direction='out', length=4.3, width=0.6, color='#333333')
        ax.tick_params(axis='x', direction='out', length=4.3, width=0.7, pad=4.0,
                       labelsize=15)
        if r == 3:
            ax.set_xticklabels(x_tick_labels)
        else:
            ax.set_xticklabels([])
        for sp in ax.spines.values():
            sp.set_linewidth(0.8)
            sp.set_color('black')

        # texts
        ax.text(0.967, 0.0886, sites[r], transform=ax.transAxes, ha='right',
                va='baseline', fontsize=15, zorder=8)
        ax.text(0.967, 0.0209, p_text[c][r], transform=ax.transAxes, ha='right',
                va='baseline', fontsize=15, zorder=8,
                fontstyle='italic' if p_italic[c][r] else 'normal')
        if r == 0:
            ax.text(0.036, 0.9206, panel_letters[c], transform=ax.transAxes, ha='left',
                    va='baseline', fontsize=19, fontweight='bold', zorder=8)
        if c == 0:
            ax.text(-0.114, 0.5, "Individual", transform=ax.transAxes, rotation=90,
                    ha='center', va='center', fontsize=14.5)
        if r == 3:
            fig.text((col_left_px[c] + ax_w_px / 2 + xlabel_shift_px[c]) / W, 1 - 1580 / H,
                     metrics[c], ha='center', va='center', fontsize=15)

fig.savefig("out.png", dpi=100)
